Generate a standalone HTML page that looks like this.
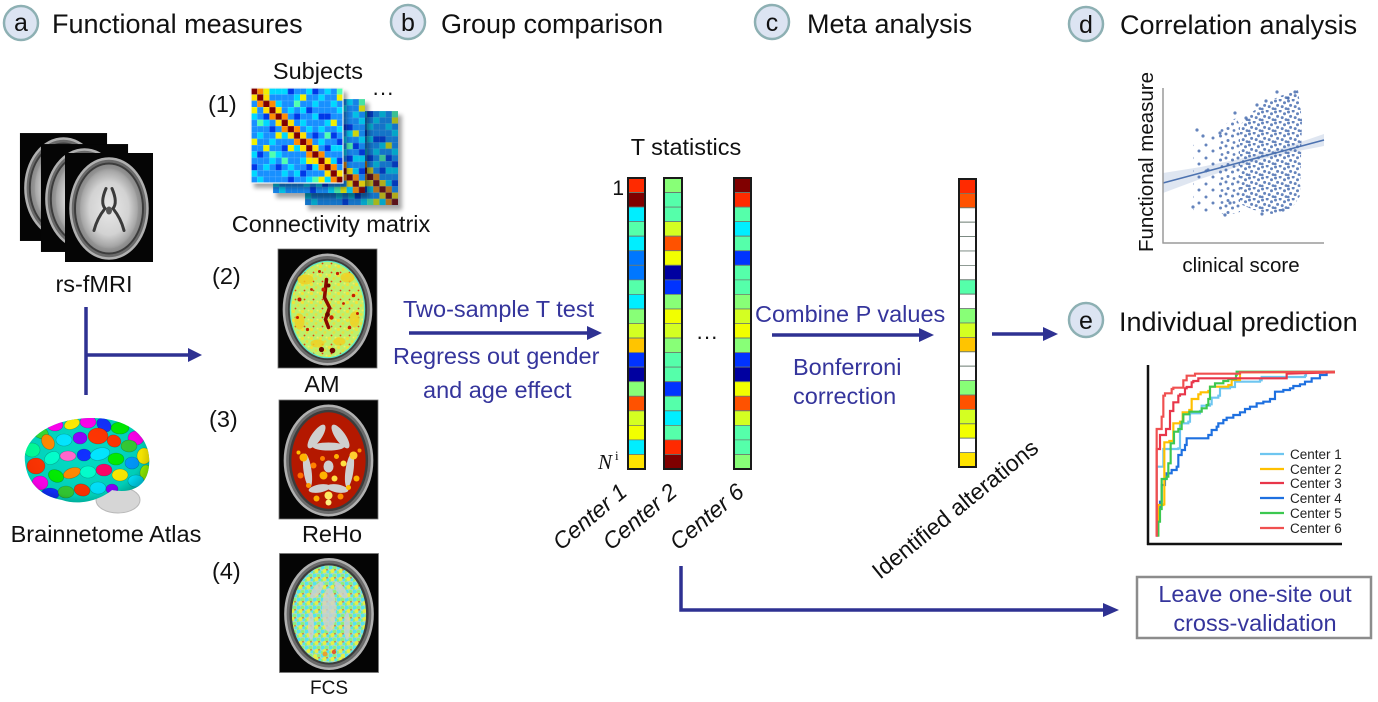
<!DOCTYPE html>
<html><head><meta charset="utf-8">
<style>
html,body{margin:0;padding:0;background:#fff;}
svg{display:block;font-family:"Liberation Sans",Arial,sans-serif;}
.col rect{stroke:#6a7a70;stroke-width:0.8;vector-effect:non-scaling-stroke;}
</style></head><body>
<svg width="1378" height="702" viewBox="0 0 1378 702" xmlns="http://www.w3.org/2000/svg" xmlns:xlink="http://www.w3.org/1999/xlink">
<defs>
<filter id="bl" x="-20%" y="-20%" width="140%" height="140%"><feGaussianBlur stdDeviation="2"/></filter>
<radialGradient id="gmri" cx="50%" cy="50%" r="50%">
<stop offset="0" stop-color="#e8e8e8"/><stop offset="0.6" stop-color="#d2d2d2"/><stop offset="0.85" stop-color="#a8a8a8"/><stop offset="1" stop-color="#808080"/>
</radialGradient>
<radialGradient id="gat" cx="45%" cy="40%" r="60%">
<stop offset="0" stop-color="#fff" stop-opacity="0"/><stop offset="0.75" stop-color="#000" stop-opacity="0.05"/><stop offset="1" stop-color="#000" stop-opacity="0.35"/>
</radialGradient>
<pattern id="grid" width="1" height="1" patternUnits="userSpaceOnUse"><path d="M0 0H1M0 0V1" stroke="#fff" stroke-opacity="0.35" stroke-width="0.1" fill="none"/></pattern>
<pattern id="pAM" width="9" height="9" patternUnits="userSpaceOnUse">
<rect width="9" height="9" fill="#bdf06c"/>
<circle cx="2" cy="2" r="1.6" fill="#f0e43a"/><circle cx="6.5" cy="5" r="1.4" fill="#e8e040"/><circle cx="4" cy="8" r="0.9" fill="#e0400f"/><circle cx="8" cy="1" r="1" fill="#f5ee60"/>
</pattern>
<pattern id="pFCS" width="8" height="8" patternUnits="userSpaceOnUse">
<rect width="8" height="8" fill="#a8dcc0"/>
<circle cx="1.5" cy="1.5" r="2" fill="#55e3f0"/><circle cx="5.5" cy="1.8" r="1.9" fill="#8ef07a"/><circle cx="3.5" cy="5" r="2" fill="#e6ef45"/><circle cx="0.5" cy="6.5" r="1.5" fill="#8ef07a"/><circle cx="7" cy="5.6" r="1.6" fill="#55e3f0"/><circle cx="6" cy="3.8" r="0.8" fill="#e05a30"/>
</pattern>
<pattern id="pD" width="13" height="11" patternUnits="userSpaceOnUse">
<g fill="#4a6fb0" fill-opacity="0.85">
<circle cx="1.5" cy="2" r="1.5"/><circle cx="6.2" cy="1" r="1.5"/><circle cx="10.5" cy="3.8" r="1.5"/><circle cx="3.6" cy="6.4" r="1.5"/><circle cx="8.2" cy="7.6" r="1.5"/><circle cx="12" cy="9.6" r="1.4"/><circle cx="1.2" cy="10" r="1.4"/>
</g>
</pattern>
<pattern id="pM" width="12" height="12" patternUnits="userSpaceOnUse">
<g fill="#4a6fb0" fill-opacity="0.85">
<circle cx="2" cy="2" r="1.5"/><circle cx="8.5" cy="4" r="1.5"/><circle cx="4" cy="8.5" r="1.5"/><circle cx="10" cy="10.5" r="1.4"/>
</g>
</pattern>
<pattern id="pS" width="14" height="13" patternUnits="userSpaceOnUse">
<circle cx="2" cy="2" r="1.5" fill="#4a6fb0" fill-opacity="0.85"/><circle cx="9" cy="8" r="1.5" fill="#4a6fb0" fill-opacity="0.85"/>
</pattern>
<clipPath id="atl"><path d="M25,462 C22,438 52,418 92,418 C130,418 152,438 149,466 C147,486 132,494 112,490 C100,500 80,506 62,500 C40,496 27,482 25,462 Z"/></clipPath>

<g id="mat">
<rect width="15" height="15" fill="#1890ff"/>
<path fill="#00d8ff" d="M3 0h1v1h-1zM5 0h1v1h-1zM9 0h1v1h-1zM11 1h1v1h-1zM12 0h1v1h-1zM4 2h1v1h-1zM7 1h1v1h-1zM13 2h1v1h-1zM0 4h1v1h-1zM6 3h1v1h-1zM8 3h1v1h-1zM10 4h1v1h-1zM2 5h1v1h-1zM12 5h1v1h-1zM5 7h1v1h-1zM9 6h1v1h-1zM14 6h1v1h-1zM1 7h1v1h-1zM3 8h1v1h-1zM7 9h1v1h-1zM11 8h1v1h-1zM13 9h1v1h-1zM0 10h1v1h-1zM4 10h1v1h-1zM8 11h1v1h-1zM6 12h1v1h-1zM10 12h1v1h-1zM2 12h1v1h-1zM13 11h1v1h-1zM5 13h1v1h-1zM9 14h1v1h-1zM1 14h1v1h-1zM12 14h1v1h-1zM7 13h1v1h-1zM3 11h1v1h-1zM14 3h1v1h-1zM10 2h1v1h-1zM8 5h1v1h-1zM4 0h1v1h-1zM11 6h1v1h-1zM0 13h1v1h-1zM14 9h1v1h-1z"/>
<path fill="#0038e8" d="M6 0h1v1h-1zM10 0h1v1h-1zM2 4h1v1h-1zM9 3h1v1h-1zM12 4h1v1h-1zM7 4h1v1h-1zM14 8h1v1h-1zM3 6h1v1h-1zM0 12h1v1h-1zM8 13h1v1h-1zM11 4h1v1h-1zM5 9h1v1h-1zM13 7h1v1h-1zM1 10h1v1h-1zM9 12h1v1h-1zM4 12h1v1h-1zM12 9h1v1h-1zM6 14h1v1h-1zM10 7h1v1h-1zM14 11h1v1h-1z"/>
<path fill="#f0f000" d="M2 0h1v1h-1zM0 3h1v1h-1zM4 7h1v1h-1zM8 1h1v1h-1zM11 14h1v1h-1zM13 5h1v1h-1zM6 9h1v1h-1zM2 9h1v1h-1zM9 11h1v1h-1zM0 8h1v1h-1zM14 1h1v1h-1z"/>
<path fill="#50ffb0" d="M7 2h1v1h-1zM3 10h1v1h-1zM12 7h1v1h-1zM5 11h1v1h-1zM10 14h1v1h-1zM1 5h1v1h-1zM14 0h1v1h-1z"/>
<path fill="#ff8c00" d="M1 0h1v1h-1zM3 2h1v1h-1zM5 4h1v1h-1zM7 6h1v1h-1zM9 8h1v1h-1zM11 10h1v1h-1zM13 12h1v1h-1zM1 2h1v1h-1zM3 4h1v1h-1zM5 6h1v1h-1zM7 8h1v1h-1zM9 10h1v1h-1zM11 12h1v1h-1zM13 14h1v1h-1z"/>
<path fill="#ffe000" d="M2 1h1v1h-1zM4 3h1v1h-1zM6 5h1v1h-1zM8 7h1v1h-1zM10 9h1v1h-1zM12 11h1v1h-1zM14 13h1v1h-1zM0 1h1v1h-1zM2 3h1v1h-1zM4 5h1v1h-1zM6 7h1v1h-1zM8 9h1v1h-1zM10 11h1v1h-1zM12 13h1v1h-1z"/>
<path fill="#800000" d="M0 0h1v1h-1zM1 1h1v1h-1zM2 2h1v1h-1zM3 3h1v1h-1zM4 4h1v1h-1zM5 5h1v1h-1zM6 6h1v1h-1zM7 7h1v1h-1zM8 8h1v1h-1zM9 9h1v1h-1zM10 10h1v1h-1zM11 11h1v1h-1zM12 12h1v1h-1zM13 13h1v1h-1zM14 14h1v1h-1z"/>
<rect width="15" height="15" fill="url(#grid)"/>
</g>

<g id="mri">
<rect x="-44" y="-55.5" width="88" height="109" fill="#050505"/>
<ellipse rx="38.5" ry="50" fill="#6a6a6a" stroke="#b0b0b0" stroke-width="2.5"/>
<ellipse rx="35" ry="46" fill="#3c3c3c"/>
<ellipse rx="33" ry="44" fill="url(#gmri)"/>
<path d="M-3,-20 Q-9,-6 -4,0 Q-12,10 -15,22 M3,-20 Q9,-6 4,0 Q12,10 15,22" stroke="#3a3a3a" stroke-width="3" fill="none" stroke-linecap="round"/>
<ellipse cy="2" rx="3" ry="4" fill="#555"/>
<ellipse rx="31" ry="42" fill="none" stroke="#909090" stroke-width="4" opacity="0.5"/>
</g>
<g id="frame99">
<rect x="-49.5" y="-60.5" width="99" height="119" fill="#050505" stroke="#777" stroke-width="0.8"/>
<ellipse rx="43.6" ry="54.7" fill="#6a6a6a" stroke="#b0b0b0" stroke-width="2.5"/>
<ellipse rx="39.6" ry="50.6" fill="#3c3c3c"/>
</g>
</defs>

<rect width="1378" height="702" fill="#fff"/>

<!-- connectivity matrices -->
<rect x="308" y="115" width="94" height="95" fill="#000" opacity="0.35" filter="url(#bl)"/>
<g transform="translate(305,111) scale(6.2,6.27)"><use href="#mat" xlink:href="#mat"/><rect width="15" height="15" fill="#0b3a55" opacity="0.32"/></g>
<rect x="276" y="103" width="93" height="95" fill="#000" opacity="0.35" filter="url(#bl)"/>
<g transform="translate(273,99) scale(6.13,6.27)"><use href="#mat" xlink:href="#mat"/><rect width="15" height="15" fill="#0b3a55" opacity="0.15"/></g>
<rect x="254" y="92" width="93" height="96" fill="#000" opacity="0.35" filter="url(#bl)"/>
<g transform="translate(251,88) scale(6.13,6.33)"><use href="#mat" xlink:href="#mat"/></g>
<rect x="251" y="88" width="92" height="95" fill="none" stroke="#f4f4f4" stroke-width="1.2"/>

<!-- rs-fMRI stack -->
<use href="#mri" xlink:href="#mri" transform="translate(63.5,188) scale(0.99,0.99)"/>
<use href="#mri" xlink:href="#mri" transform="translate(84.5,199) scale(0.99,0.99)"/>
<use href="#mri" xlink:href="#mri" transform="translate(109,208.5)"/>

<!-- AM -->
<g transform="translate(327.5,309.5)">
<use href="#frame99" xlink:href="#frame99"/>
<ellipse rx="37.1" ry="48.2" fill="url(#pAM)" stroke="#5ce8c8" stroke-width="1.2"/>
<g fill="#f2d020" opacity="0.8">
<ellipse cx="-22" cy="-30" rx="8" ry="5"/><ellipse cx="20" cy="-32" rx="7" ry="5"/><ellipse cx="-28" cy="12" rx="5" ry="8"/><ellipse cx="27" cy="10" rx="5" ry="8"/><ellipse cx="-10" cy="34" rx="7" ry="4"/><ellipse cx="12" cy="32" rx="6" ry="4"/>
</g>
<path d="M-1,-30 L-3,-12 L2,-2 L-2,10 L1,18" stroke="#8a0a00" stroke-width="3.5" fill="none" stroke-linecap="round"/>
<g fill="#c81e00">
<circle cx="-28" cy="-10" r="2"/><circle cx="26" cy="-14" r="1.8"/><circle cx="-20" cy="20" r="1.6"/><circle cx="22" cy="18" r="1.8"/><circle cx="-8" cy="-38" r="1.5"/><circle cx="10" cy="-36" r="1.6"/><circle cx="-30" cy="8" r="1.5"/><circle cx="30" cy="4" r="1.5"/><circle cx="4" cy="8" r="2.2"/><circle cx="-4" cy="-20" r="2"/><circle cx="-16" cy="-20" r="1.4"/><circle cx="16" cy="-6" r="1.4"/>
</g>
<g fill="#6a0500"><circle cx="-6" cy="40" r="2.6"/><circle cx="5" cy="41" r="2.8"/><circle cx="0" cy="5" r="2.4"/><circle cx="1" cy="-24" r="2"/></g>
</g>

<!-- ReHo -->
<g transform="translate(328.5,460.5)">
<use href="#frame99" xlink:href="#frame99"/>
<ellipse rx="37.1" ry="48.2" fill="#b41800"/>
<g fill="#cfcfcf">
<ellipse cx="-12" cy="-24" rx="5" ry="14" transform="rotate(35 -12 -24)"/>
<ellipse cx="12" cy="-24" rx="5" ry="14" transform="rotate(-35 12 -24)"/>
<ellipse cx="0" cy="-14" rx="16" ry="4"/>
<ellipse cx="-21" cy="10" rx="4" ry="17" transform="rotate(-8 -21 10)"/>
<ellipse cx="21" cy="10" rx="4" ry="17" transform="rotate(8 21 10)"/>
<ellipse cx="-9" cy="28" rx="11" ry="4" transform="rotate(-10 -9 28)"/>
<ellipse cx="9" cy="28" rx="11" ry="4" transform="rotate(10 9 28)"/>
<ellipse cx="0" cy="6" rx="5" ry="6"/>
</g>
<circle cx="-25" cy="-3" r="4" fill="#ffb400"/><circle cx="25" cy="-5" r="4" fill="#ffd030"/><circle cx="-15" cy="5" r="3" fill="#ff8000"/><circle cx="15" cy="3" r="3" fill="#ffe040"/><circle cx="-5" cy="15" r="4" fill="#ffb400"/><circle cx="6" cy="18" r="3" fill="#ffe040"/><circle cx="0" cy="35" r="4" fill="#ffe860"/><circle cx="-12" cy="38" r="3" fill="#ffb000"/><circle cx="12" cy="36" r="3" fill="#ff9000"/><circle cx="-28" cy="15" r="3" fill="#ff7000"/><circle cx="28" cy="18" r="3" fill="#ffb400"/><circle cx="-6" cy="-2" r="2.5" fill="#ff8000"/><circle cx="8" cy="-4" r="2.5" fill="#ffb000"/><circle cx="0" cy="42" r="3" fill="#fff080"/><circle cx="-20" cy="25" r="2.5" fill="#ff9a00"/><circle cx="20" cy="27" r="2.5" fill="#ffc000"/><circle cx="-30" cy="-8" r="2" fill="#ffc000"/><circle cx="31" cy="-10" r="2" fill="#ff9000"/>
</g>

<!-- FCS -->
<g transform="translate(329,614)">
<use href="#frame99" xlink:href="#frame99"/>
<ellipse rx="37.1" ry="48.6" fill="url(#pFCS)"/>
<g fill="#d0d0d0" opacity="0.8">
<ellipse cx="0" cy="-4" rx="7" ry="22"/>
<ellipse cx="-12" cy="-24" rx="4" ry="10" transform="rotate(35 -12 -24)"/>
<ellipse cx="12" cy="-24" rx="4" ry="10" transform="rotate(-35 12 -24)"/>
<ellipse cx="-18" cy="12" rx="3" ry="14"/>
<ellipse cx="18" cy="12" rx="3" ry="14"/>
</g>
<circle cx="-4" cy="40" r="2.5" fill="#e8a030"/><circle cx="5" cy="38" r="2.2" fill="#e05a30"/><circle cx="-14" cy="42" r="2" fill="#e6ef45"/><circle cx="14" cy="42" r="2" fill="#e6ef45"/>
</g>

<!-- Atlas -->
<ellipse cx="118" cy="500" rx="22" ry="13" fill="#d6d6d6" stroke="#b8b8b8" stroke-width="1"/>
<g clip-path="url(#atl)">
<rect x="20" y="415" width="135" height="95" fill="#00d8c0"/>
<g stroke="#000" stroke-opacity="0.25" stroke-width="0.6">
<ellipse cx="40" cy="432" rx="9" ry="6" fill="#33dd33" transform="rotate(30 40 432)"/>
<ellipse cx="55" cy="425" rx="8" ry="6" fill="#ff00ee"/>
<ellipse cx="72" cy="424" rx="8" ry="5" fill="#ffee00" transform="rotate(-20 72 424)"/>
<ellipse cx="88" cy="422" rx="8" ry="6" fill="#ff00ee"/>
<ellipse cx="104" cy="425" rx="8" ry="6" fill="#1030ff" transform="rotate(40 104 425)"/>
<ellipse cx="120" cy="428" rx="9" ry="6" fill="#00ee00"/>
<ellipse cx="136" cy="438" rx="8" ry="7" fill="#ff00ee"/>
<ellipse cx="32" cy="450" rx="8" ry="7" fill="#00ff99"/>
<ellipse cx="48" cy="442" rx="8" ry="6" fill="#ff8800" transform="rotate(60 48 442)"/>
<ellipse cx="64" cy="440" rx="8" ry="6" fill="#00e5ff"/>
<ellipse cx="80" cy="438" rx="7" ry="6" fill="#8a00ff"/>
<ellipse cx="98" cy="436" rx="10" ry="8" fill="#ff3300"/>
<ellipse cx="114" cy="441" rx="7" ry="6" fill="#ff3300" transform="rotate(20 114 441)"/>
<ellipse cx="129" cy="446" rx="8" ry="6" fill="#33cc33"/>
<ellipse cx="144" cy="456" rx="7" ry="8" fill="#ffee00"/>
<ellipse cx="36" cy="466" rx="9" ry="8" fill="#ff3300"/>
<ellipse cx="52" cy="458" rx="8" ry="6" fill="#00ffcc" transform="rotate(-30 52 458)"/>
<ellipse cx="68" cy="456" rx="8" ry="5" fill="#ff66cc"/>
<ellipse cx="84" cy="455" rx="7" ry="6" fill="#1030ff"/>
<ellipse cx="100" cy="454" rx="10" ry="6" fill="#00e5ff" transform="rotate(-15 100 454)"/>
<ellipse cx="116" cy="459" rx="8" ry="6" fill="#00ee00"/>
<ellipse cx="132" cy="463" rx="7" ry="6" fill="#0099ff"/>
<ellipse cx="146" cy="473" rx="6" ry="8" fill="#99ff00"/>
<ellipse cx="40" cy="483" rx="8" ry="7" fill="#ff00ee"/>
<ellipse cx="56" cy="476" rx="8" ry="6" fill="#00ee00" transform="rotate(25 56 476)"/>
<ellipse cx="72" cy="473" rx="9" ry="5" fill="#ff8800" transform="rotate(-20 72 473)"/>
<ellipse cx="88" cy="472" rx="8" ry="6" fill="#00ffcc"/>
<ellipse cx="104" cy="470" rx="8" ry="6" fill="#ff0066"/>
<ellipse cx="120" cy="475" rx="8" ry="6" fill="#ffee00"/>
<ellipse cx="136" cy="481" rx="8" ry="6" fill="#00e5ff"/>
<ellipse cx="50" cy="494" rx="9" ry="6" fill="#1030ff"/>
<ellipse cx="66" cy="492" rx="8" ry="6" fill="#33cc33"/>
<ellipse cx="82" cy="490" rx="8" ry="6" fill="#ff3300" transform="rotate(15 82 490)"/>
<ellipse cx="98" cy="488" rx="8" ry="6" fill="#00e5ff"/>
<ellipse cx="112" cy="489" rx="6" ry="5" fill="#8a00ff"/>
</g>
<rect x="20" y="415" width="135" height="95" fill="url(#gat)"/>
</g>

<!-- T statistic columns -->
<g class="col" transform="translate(628,178) scale(17,14.55)">
<rect y="0" width="1" height="1" fill="#ff2a00"/><rect y="1" width="1" height="1" fill="#800000"/><rect y="2" width="1" height="1" fill="#00eeff"/><rect y="3" width="1" height="1" fill="#55ffaa"/><rect y="4" width="1" height="1" fill="#00eeff"/><rect y="5" width="1" height="1" fill="#0077ff"/><rect y="6" width="1" height="1" fill="#0077ff"/><rect y="7" width="1" height="1" fill="#55ffaa"/><rect y="8" width="1" height="1" fill="#00eeff"/><rect y="9" width="1" height="1" fill="#88ff77"/><rect y="10" width="1" height="1" fill="#d4ff22"/><rect y="11" width="1" height="1" fill="#ffc400"/><rect y="12" width="1" height="1" fill="#0033ff"/><rect y="13" width="1" height="1" fill="#0000a0"/><rect y="14" width="1" height="1" fill="#88ff77"/><rect y="15" width="1" height="1" fill="#ff5200"/><rect y="16" width="1" height="1" fill="#d4ff22"/><rect y="17" width="1" height="1" fill="#f2ff00"/><rect y="18" width="1" height="1" fill="#00eeff"/><rect y="19" width="1" height="1" fill="#ffe400"/>
</g>
<g class="col" transform="translate(664,178) scale(18,14.55)">
<rect y="0" width="1" height="1" fill="#88ff77"/><rect y="1" width="1" height="1" fill="#55ffaa"/><rect y="2" width="1" height="1" fill="#55ffaa"/><rect y="3" width="1" height="1" fill="#d4ff22"/><rect y="4" width="1" height="1" fill="#ff5200"/><rect y="5" width="1" height="1" fill="#f2ff00"/><rect y="6" width="1" height="1" fill="#0000a0"/><rect y="7" width="1" height="1" fill="#0033ff"/><rect y="8" width="1" height="1" fill="#88ff77"/><rect y="9" width="1" height="1" fill="#f2ff00"/><rect y="10" width="1" height="1" fill="#d4ff22"/><rect y="11" width="1" height="1" fill="#88ff77"/><rect y="12" width="1" height="1" fill="#55ffaa"/><rect y="13" width="1" height="1" fill="#55ffaa"/><rect y="14" width="1" height="1" fill="#0033ff"/><rect y="15" width="1" height="1" fill="#55ffaa"/><rect y="16" width="1" height="1" fill="#00eeff"/><rect y="17" width="1" height="1" fill="#55ffaa"/><rect y="18" width="1" height="1" fill="#ff2a00"/><rect y="19" width="1" height="1" fill="#800000"/>
</g>
<g class="col" transform="translate(734,178) scale(17,14.55)">
<rect y="0" width="1" height="1" fill="#800000"/><rect y="1" width="1" height="1" fill="#ff2a00"/><rect y="2" width="1" height="1" fill="#55ffaa"/><rect y="3" width="1" height="1" fill="#00eeff"/><rect y="4" width="1" height="1" fill="#55ffaa"/><rect y="5" width="1" height="1" fill="#0033ff"/><rect y="6" width="1" height="1" fill="#55ffaa"/><rect y="7" width="1" height="1" fill="#55ffaa"/><rect y="8" width="1" height="1" fill="#88ff77"/><rect y="9" width="1" height="1" fill="#d4ff22"/><rect y="10" width="1" height="1" fill="#f2ff00"/><rect y="11" width="1" height="1" fill="#88ff77"/><rect y="12" width="1" height="1" fill="#0033ff"/><rect y="13" width="1" height="1" fill="#0000a0"/><rect y="14" width="1" height="1" fill="#f2ff00"/><rect y="15" width="1" height="1" fill="#ff5200"/><rect y="16" width="1" height="1" fill="#d4ff22"/><rect y="17" width="1" height="1" fill="#55ffaa"/><rect y="18" width="1" height="1" fill="#55ffaa"/><rect y="19" width="1" height="1" fill="#88ff77"/>
</g>
<g class="col" transform="translate(959,179) scale(17,14.4)">
<rect y="0" width="1" height="1" fill="#ff2a00"/><rect y="1" width="1" height="1" fill="#ff5200"/><rect y="2" width="1" height="1" fill="#ffffff"/><rect y="3" width="1" height="1" fill="#ffffff"/><rect y="4" width="1" height="1" fill="#ffffff"/><rect y="5" width="1" height="1" fill="#ffffff"/><rect y="6" width="1" height="1" fill="#ffffff"/><rect y="7" width="1" height="1" fill="#55ffaa"/><rect y="8" width="1" height="1" fill="#ffffff"/><rect y="9" width="1" height="1" fill="#88ff77"/><rect y="10" width="1" height="1" fill="#d4ff22"/><rect y="11" width="1" height="1" fill="#ffc400"/><rect y="12" width="1" height="1" fill="#ffffff"/><rect y="13" width="1" height="1" fill="#ffffff"/><rect y="14" width="1" height="1" fill="#88ff77"/><rect y="15" width="1" height="1" fill="#ff5200"/><rect y="16" width="1" height="1" fill="#d4ff22"/><rect y="17" width="1" height="1" fill="#f2ff00"/><rect y="18" width="1" height="1" fill="#ffffff"/><rect y="19" width="1" height="1" fill="#ffe400"/>
</g>
<g fill="none" stroke="#1a1a1a" stroke-width="2">
<rect x="628" y="178" width="17" height="291"/>
<rect x="664" y="178" width="18" height="291"/>
<rect x="734" y="178" width="17" height="291"/>
<rect x="959" y="179" width="17" height="288"/>
</g>

<!-- header circles -->
<g stroke="#8db0b3" stroke-width="2.5" fill="#dce4f2">
<circle cx="21" cy="23" r="17"/>
<circle cx="408" cy="22" r="17"/>
<circle cx="772" cy="22" r="17"/>
<circle cx="1086" cy="24" r="17"/>
<circle cx="1086" cy="320" r="17"/>
</g>
<g font-size="25" fill="#111" text-anchor="middle">
<text x="21" y="31">a</text>
<text x="408" y="31">b</text>
<text x="772" y="31">c</text>
<text x="1086" y="33">d</text>
<text x="1086" y="329">e</text>
</g>
<g font-size="27" fill="#111">
<text x="52" y="33">Functional measures</text>
<text x="441" y="33">Group comparison</text>
<text x="807" y="33">Meta analysis</text>
<text x="1120" y="34">Correlation analysis</text>
<text x="1119" y="331">Individual prediction</text>
</g>

<!-- labels -->
<g font-size="23.5" fill="#111">
<text x="318" y="79" text-anchor="middle">Subjects</text>
<text x="208" y="112">(1)</text>
<text x="383" y="100" text-anchor="middle" font-size="22">···</text>
<text x="331" y="232" text-anchor="middle">Connectivity matrix</text>
<text x="94" y="292" text-anchor="middle">rs-fMRI</text>
<text x="212" y="284">(2)</text>
<text x="322" y="392" text-anchor="middle">AM</text>
<text x="209" y="427">(3)</text>
<text x="332" y="542" text-anchor="middle">ReHo</text>
<text x="212" y="579">(4)</text>
<text x="329" y="694" text-anchor="middle" font-size="19">FCS</text>
<text x="106" y="542" text-anchor="middle">Brainnetome Atlas</text>
<text x="686" y="155" text-anchor="middle">T statistics</text>
<text x="624" y="195" text-anchor="end" font-size="21">1</text>
<text x="707" y="344" text-anchor="middle" font-size="22">···</text>
</g>
<text x="598" y="469" font-family="'Liberation Serif',serif" font-style="italic" font-size="21" fill="#111">N</text>
<text x="615" y="460" font-family="'Liberation Serif',serif" font-size="13" fill="#111">i</text>

<g font-size="23" fill="#111" font-style="italic">
<text transform="translate(561,551) rotate(-40)">Center 1</text>
<text transform="translate(611,551) rotate(-40)">Center 2</text>
<text transform="translate(678,551) rotate(-40)">Center 6</text>
</g>
<text transform="translate(880,580) rotate(-39)" font-size="23" fill="#111">Identified alterations</text>

<g font-size="23.5" fill="#35359c">
<text x="403" y="317">Two-sample T test</text>
<text x="393" y="364">Regress out gender</text>
<text x="423" y="398">and age effect</text>
<text x="755" y="322">Combine P values</text>
<text x="793" y="375">Bonferroni</text>
<text x="793" y="404">correction</text>
<text x="1255" y="602" text-anchor="middle">Leave one-site out</text>
<text x="1255" y="631" text-anchor="middle">cross-validation</text>
</g>

<!-- arrows -->
<g stroke="#2e3192" stroke-width="3.5" fill="none">
<line x1="86" y1="307" x2="86" y2="395"/>
<line x1="86" y1="355" x2="190" y2="355"/>
<line x1="409" y1="333" x2="590" y2="333"/>
<line x1="772" y1="335" x2="922" y2="335"/>
<line x1="992" y1="334" x2="1046" y2="334"/>
<polyline points="681,566 681,610 1106,610"/>
</g>
<g fill="#2e3192">
<polygon points="188,348 202,355 188,362"/>
<polygon points="587,326 602,333 587,340"/>
<polygon points="919,328 934,335 919,342"/>
<polygon points="1043,327 1058,334 1043,341"/>
<polygon points="1103,603 1119,610 1103,617"/>
</g>
<rect x="1137" y="577" width="234" height="61" fill="none" stroke="#8c8c8c" stroke-width="2.5"/>

<!-- correlation -->
<polygon points="1163,173 1200,167.1 1240,158.9 1265,152.8 1290,145.6 1324,134 1324,146 1290,152.6 1265,158.8 1240,165.9 1200,179.1 1163,193" fill="#4c72b0" opacity="0.18"/>
<polygon points="1193,145 1212,130 1218,132 1218,212 1205,215 1193,210" fill="url(#pS)"/>
<polygon points="1218,128 1236,118 1240,125 1240,212 1225,216 1218,210" fill="url(#pM)"/>
<polygon points="1240,125 1252,112 1264,104 1280,96 1298,90 1302,120 1300,196 1292,208 1272,214 1254,210 1240,204" fill="url(#pD)"/>
<g fill="#4a6fb0" fill-opacity="0.85">
<circle cx="1197" cy="130" r="1.6"/><circle cx="1203" cy="136" r="1.6"/><circle cx="1220" cy="133" r="1.6"/><circle cx="1235" cy="113" r="1.6"/><circle cx="1225" cy="215" r="1.6"/><circle cx="1193" cy="207" r="1.6"/><circle cx="1257" cy="105" r="1.6"/><circle cx="1277" cy="92" r="1.6"/><circle cx="1295" cy="92" r="1.6"/><circle cx="1246" cy="118" r="1.6"/><circle cx="1266" cy="101" r="1.6"/><circle cx="1288" cy="98" r="1.6"/><circle cx="1230" cy="203" r="1.6"/><circle cx="1262" cy="214" r="1.6"/><circle cx="1283" cy="210" r="1.6"/><circle cx="1208" cy="170" r="1.6"/>
</g>
<line x1="1163" y1="183" x2="1324" y2="140" stroke="#4c72b0" stroke-width="1.6"/>
<g stroke="#9a9a9a" stroke-width="1.5">
<line x1="1163" y1="88" x2="1163" y2="243.5"/>
<line x1="1162.5" y1="243" x2="1324" y2="243"/>
</g>
<text transform="translate(1153,162) rotate(-90)" text-anchor="middle" font-size="20.5" fill="#111">Functional measure</text>
<text x="1241" y="272" text-anchor="middle" font-size="20.5" fill="#111">clinical score</text>

<!-- ROC -->
<g transform="translate(1130,355) scale(0.3333)" fill="none" stroke-width="6.5" stroke-linejoin="miter">
<polyline stroke="#1e70e0" points="82,545 82,460 90,460 90,440 95,440 95,390 105,390 105,370 110,370 110,355 125,355 125,345 140,345 140,335 145,335 145,300 155,300 155,285 165,285 165,270 170,270 170,250 235,250 235,240 245,240 245,225 260,225 260,215 265,215 265,205 280,205 280,195 290,195 290,188 310,188 310,180 330,180 330,172 345,172 345,162 360,162 360,155 380,155 380,145 400,145 400,140 420,140 420,132 435,132 435,110 460,110 460,105 480,105 480,100 490,100 490,93 510,93 510,88 525,88 525,80 545,80 545,70 570,70 570,60 590,60 590,52"/>
<polyline stroke="#6ec6f0" points="80,545 80,335 100,335 100,282 105,282 145,282 145,280 150,280 150,205 175,205 175,200 180,200 180,175 210,175 210,168 215,168 215,152 240,152 240,148 245,148 245,128 265,128 265,122 270,122 270,100 300,100 300,96 315,96 315,80 390,80 390,76 395,76 395,66 525,66 525,62 528,62 528,52 615,52"/>
<polyline stroke="#ffc000" points="85,545 85,450 100,450 100,448 103,448 103,262 118,262 118,258 130,258 130,205 150,205 150,200 158,200 158,172 178,172 178,165 185,165 185,132 205,132 205,118 212,118 212,112 235,112 235,108 240,108 240,95 295,95 295,90 305,90 305,75 330,75 330,52 615,52"/>
<polyline stroke="#3cc850" points="85,545 85,500 90,500 90,462 95,462 95,372 110,372 110,365 115,365 115,325 122,325 122,265 132,265 132,230 145,230 145,222 155,222 155,200 160,200 160,178 178,178 178,170 215,170 215,160 230,160 230,150 235,150 235,132 240,132 240,95 255,95 255,85 280,85 280,78 295,78 295,72 318,72 318,60 320,60 320,50 385,50 615,50"/>
<polyline stroke="#e8364a" points="80,545 80,282 90,282 90,240 108,240 108,222 120,222 120,168 130,168 130,142 145,142 145,122 150,122 150,118 165,118 165,100 170,100 170,96 185,96 185,82 190,82 190,78 205,78 205,70 260,70 470,70 470,56 615,52"/>
<polyline stroke="#f05050" points="80,545 80,222 95,222 95,185 100,185 100,122 105,122 105,115 125,115 125,102 130,102 130,98 160,98 160,76 170,76 170,62 195,62 195,56 330,56 330,52 615,50"/>
</g>
<g stroke="#111" stroke-width="2.5">
<line x1="1148" y1="365" x2="1148" y2="545"/>
<line x1="1147" y1="544" x2="1342" y2="544"/>
</g>
<g stroke-width="2.2">
<line x1="1260" y1="454" x2="1284" y2="454" stroke="#6ec6f0"/>
<line x1="1260" y1="469" x2="1284" y2="469" stroke="#ffc000"/>
<line x1="1260" y1="483" x2="1284" y2="483" stroke="#e8364a"/>
<line x1="1260" y1="498" x2="1284" y2="498" stroke="#1e70e0"/>
<line x1="1260" y1="513" x2="1284" y2="513" stroke="#3cc850"/>
<line x1="1260" y1="528" x2="1284" y2="528" stroke="#f05050"/>
</g>
<g font-size="13.5" fill="#222">
<text x="1290" y="459">Center 1</text>
<text x="1290" y="474">Center 2</text>
<text x="1290" y="488">Center 3</text>
<text x="1290" y="503">Center 4</text>
<text x="1290" y="518">Center 5</text>
<text x="1290" y="533">Center 6</text>
</g>
</svg>
</body></html>
